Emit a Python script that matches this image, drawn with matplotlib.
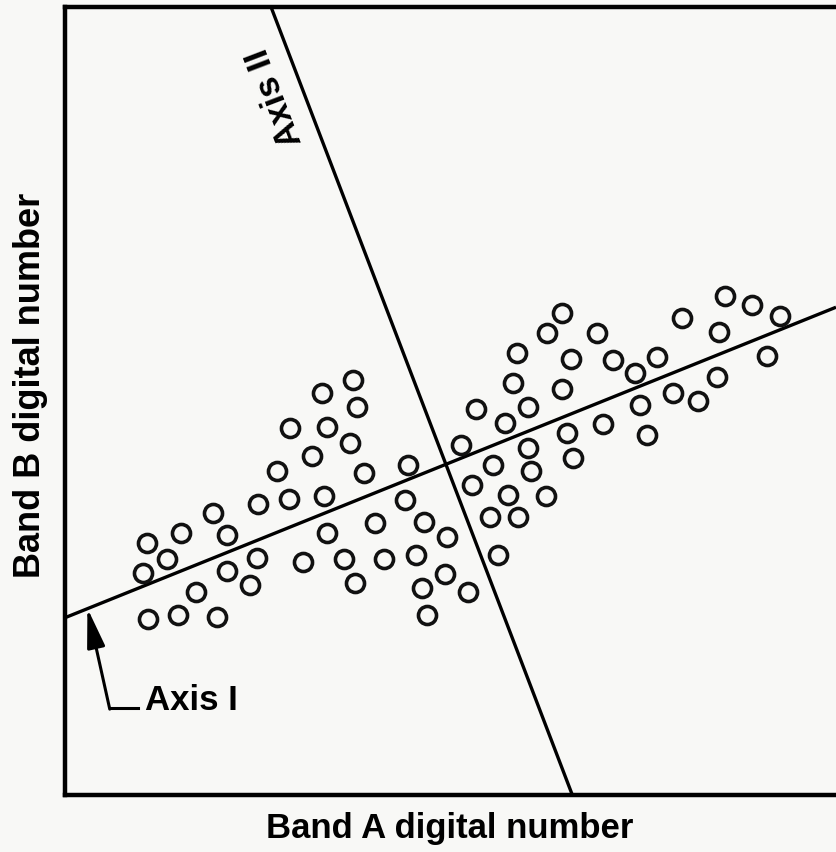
import matplotlib
matplotlib.use("Agg")
from matplotlib import pyplot as plt

#------------------------------------------------------------------------
# Data (digital number units, 0-100 on both axes)
#------------------------------------------------------------------------

band_a = [37.4, 33.3, 37.9, 29.2, 34.0, 37.0, 32.0, 27.5, 38.8, 25.0,
          29.1, 33.6, 19.2, 15.0, 21.0, 34.0, 10.6, 13.2, 24.9, 30.9,
          36.2, 10.1, 21.0, 24.0, 37.6, 17.0, 10.8, 14.7, 19.7, 44.5,
          53.3, 51.4, 55.5, 52.8, 44.1, 55.1, 40.2, 46.6, 49.5, 41.4,
          45.5, 49.3, 46.3, 52.3, 47.0, 56.2, 64.5, 62.5, 69.0, 58.6,
          65.6, 71.1, 73.9, 58.1, 64.5, 74.6, 60.1, 57.1, 69.8, 65.1,
          75.5, 60.1, 65.9, 60.4, 57.5, 62.4, 58.8, 85.6, 89.1, 92.7,
          80.0, 84.8, 91.1, 76.8, 84.6, 78.9, 82.1]

band_b = [52.7, 51.0, 49.2, 46.6, 46.7, 44.7, 43.0, 41.1, 40.9, 36.9,
          37.6, 37.9, 35.8, 33.2, 33.0, 33.2, 32.0, 29.9, 30.1, 29.6,
          29.9, 28.2, 28.4, 26.6, 26.9, 25.8, 22.3, 22.8, 22.6, 41.9,
          49.0, 44.4, 41.9, 39.3, 37.4, 35.3, 34.5, 34.6, 32.7, 29.9,
          30.5, 28.0, 26.3, 25.8, 22.8, 30.5, 61.2, 58.6, 58.6, 56.1,
          55.3, 55.2, 53.6, 52.3, 51.5, 49.5, 49.2, 47.2, 47.1, 45.9,
          45.7, 44.0, 42.8, 41.1, 38.1, 37.9, 35.3, 63.3, 62.2, 60.8,
          60.5, 58.8, 55.7, 55.6, 53.0, 51.0, 50.0]

# principal axes, as end points
axis1_x = [0.0, 100.0]
axis1_y = [22.5, 61.9]
axis2_x = [26.6, 65.8]
axis2_y = [100.3, 0.0]

font = ["Liberation Sans", "DejaVu Sans"]

#------------------------------------------------------------------------
# Plot
#------------------------------------------------------------------------

fig = plt.figure(figsize=(8.36, 8.52), dpi=100)
fig.patch.set_facecolor("#f8f8f6")
ax = fig.add_axes([0.0778, 0.0669, 0.9222, 0.9249])
ax.set_facecolor("#f8f8f6")

ax.plot(axis1_x, axis1_y, color="black", lw=2.4, solid_capstyle="butt")
ax.plot(axis2_x, axis2_y, color="black", lw=2.4, solid_capstyle="butt")
ax.plot(band_a, band_b, "o", ms=13, mfc="none", mec="#111111", mew=2.6)

ax.set_xlim(0, 100)
ax.set_ylim(0, 100)
ax.set_xticks([])
ax.set_yticks([])
for side in ["left", "top", "bottom"]:
    ax.spines[side].set_linewidth(3.2)
ax.spines["right"].set_visible(False)

# labels
ax.text(27.2, 88.5, "Axis II", rotation=110.9, ha="center", va="center",
        fontsize=25, family=font, weight="bold", rotation_mode="anchor")
ax.text(10.4, 12.0, "Axis I", ha="left", va="center", fontsize=25,
        family=font, weight="bold")
ax.plot([9.5, 5.8], [11.0, 11.0], color="black", lw=2.2)
ax.annotate("", xy=(2.9, 23.7), xytext=(5.8, 10.9),
            arrowprops=dict(arrowstyle="-|>,head_length=2.4,head_width=0.55",
                            color="black", lw=2.2, shrinkA=0, shrinkB=0))

fig.text(0.538, 0.028, "Band A digital number", ha="center", va="center",
         fontsize=25, family=font, weight="bold")
fig.text(0.036, 0.548, "Band B digital number", ha="center", va="center",
         rotation=90, fontsize=26, family=font, weight="bold")

fig.savefig("out.png", dpi=100, facecolor=fig.get_facecolor())
